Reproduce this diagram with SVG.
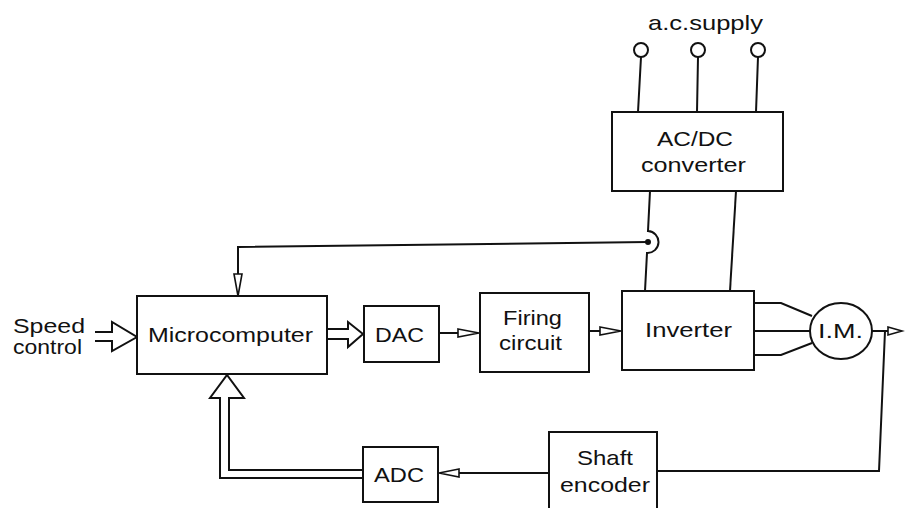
<svg xmlns="http://www.w3.org/2000/svg" width="905" height="508" viewBox="0 0 905 508">
<style>
.box{fill:#fff;stroke:#111;stroke-width:2}
.ln{fill:none;stroke:#111;stroke-width:2}
.hd{fill:#fff;stroke:#111;stroke-width:1.6}
text{font-family:"Liberation Sans",Arial,sans-serif;font-size:21px;fill:#111}
</style>
<rect width="905" height="508" fill="#fff"/>
<g id="connectors">
<circle class="ln" cx="641" cy="50" r="7"/>
<circle class="ln" cx="698" cy="50" r="7"/>
<circle class="ln" cx="758" cy="50" r="7"/>
<path class="ln" d="M641,57 L638,112 M698,57 L697,112 M758,57 L756,112"/>
<path class="ln" d="M650,191 L648,231 A11,11 0 0 1 647,253 L645,291"/>
<path class="ln" d="M736,191 L730,291"/>
<circle cx="648" cy="242" r="3" fill="#111"/>
<path class="ln" d="M648,242 L238,247 L238,274"/>
<path class="hd" d="M234,274 L238,296 L242,274 Z"/>
<path class="ln" d="M95,332 L112,332 L112,322 L137,337 L112,351 L112,341 L95,341"/>
<path class="ln" d="M328,329 L348,329 L348,322 L363,334 L348,347 L348,339 L328,339"/>
<path class="ln" d="M439,333 L458,333"/>
<path class="hd" d="M458,329 L479,333 L458,337 Z"/>
<path class="ln" d="M589,331 L600,331"/>
<path class="hd" d="M600,327 L621,331 L600,335 Z"/>
<path class="ln" d="M754,303 L781,303 L812,316 M754,331 L810,331 M754,355 L781,355 L812,343"/>
<path class="ln" d="M872,331 L888,331"/>
<path class="hd" d="M888,327 L902,331 L888,335 Z"/>
<path class="ln" d="M885,331 L879,471 L657,471"/>
<path class="ln" d="M549,473 L459,473"/>
<path class="hd" d="M459,469 L439,473 L459,477 Z"/>
<path class="ln" d="M363,478 L220,478 L220,398 L210,398 L227,375 L244,398 L229,398 L229,470 L363,470"/>
</g>
<text x="648" y="30" textLength="115" lengthAdjust="spacingAndGlyphs">a.c.supply</text>
<g id="acdc">
<rect class="box" x="612" y="112" width="171" height="79"/>
<text x="657" y="146" textLength="76" lengthAdjust="spacingAndGlyphs">AC/DC</text>
<text x="641" y="172" textLength="105" lengthAdjust="spacingAndGlyphs">converter</text>
</g>
<g id="speed">
<text x="13" y="333" textLength="72" lengthAdjust="spacingAndGlyphs">Speed</text>
<text x="13" y="354" textLength="69" lengthAdjust="spacingAndGlyphs">control</text>
</g>
<g id="micro">
<rect class="box" x="137" y="296" width="190" height="78"/>
<text x="148" y="342" font-size="22" textLength="165" lengthAdjust="spacingAndGlyphs">Microcomputer</text>
</g>
<g id="dac">
<rect class="box" x="364" y="306" width="75" height="56"/>
<text x="375" y="342" textLength="49" lengthAdjust="spacingAndGlyphs">DAC</text>
</g>
<g id="firing">
<rect class="box" x="480" y="293" width="109" height="79"/>
<text x="503" y="325" textLength="59" lengthAdjust="spacingAndGlyphs">Firing</text>
<text x="499" y="350" textLength="63" lengthAdjust="spacingAndGlyphs">circuit</text>
</g>
<g id="inverter">
<rect class="box" x="622" y="291" width="132" height="79"/>
<text x="645" y="337" textLength="87" lengthAdjust="spacingAndGlyphs">Inverter</text>
</g>
<g id="motor">
<ellipse class="box" cx="841" cy="331" rx="31" ry="28"/>
<text x="818" y="338" textLength="45" lengthAdjust="spacingAndGlyphs">I.M.</text>
</g>
<g id="adc">
<rect class="box" x="363" y="447" width="75" height="55"/>
<text x="374" y="482" textLength="50" lengthAdjust="spacingAndGlyphs">ADC</text>
</g>
<g id="encoder">
<rect class="box" x="549" y="432" width="108" height="80"/>
<text x="577" y="465" textLength="56" lengthAdjust="spacingAndGlyphs">Shaft</text>
<text x="560" y="492" textLength="90" lengthAdjust="spacingAndGlyphs">encoder</text>
</g>
</svg>
